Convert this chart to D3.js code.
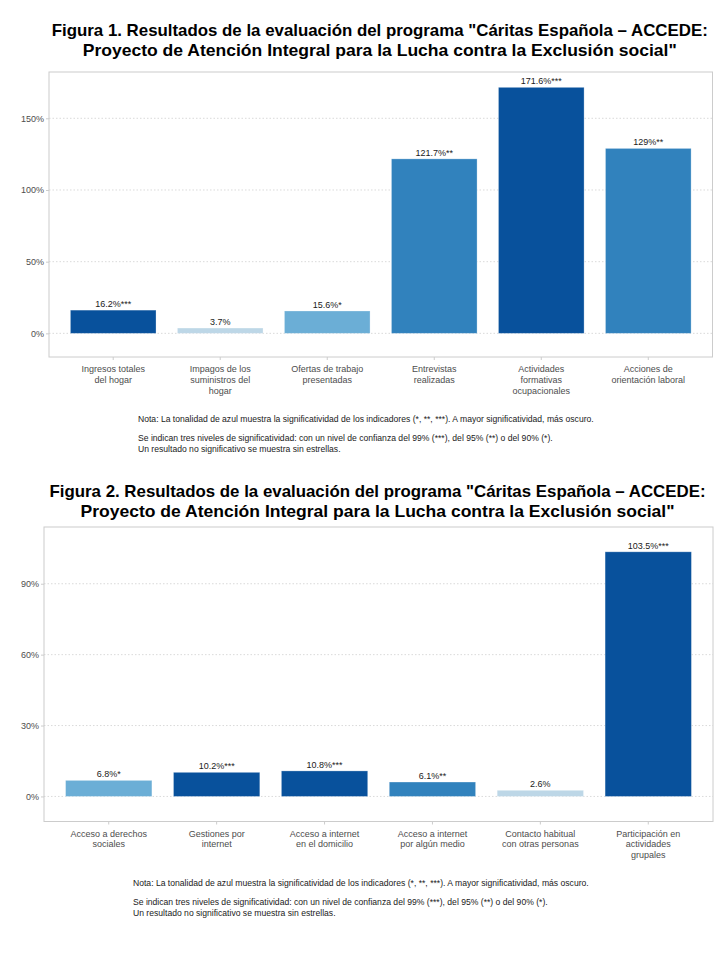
<!DOCTYPE html>
<html><head><meta charset="utf-8">
<script src="https://cdn.jsdelivr.net/npm/d3@7/dist/d3.min.js"></script>
<style>body{margin:0;background:#fff}svg{display:block}</style>
</head><body>
<svg id="chart" width="720" height="960"></svg>
<script>
// ---- Data ----
const titleLines = [
  "Resultados de la evaluación del programa \"Cáritas Española – ACCEDE:",
  "Proyecto de Atención Integral para la Lucha contra la Exclusión social\""
];
const fig1Categories = ["Ingresos totales\ndel hogar", "Impagos de los\nsuministros del\nhogar", "Ofertas de trabajo\npresentadas", "Entrevistas\nrealizadas", "Actividades\nformativas\nocupacionales", "Acciones de\norientación laboral"];
const fig1Values = [16.2, 3.7, 15.6, 121.7, 171.6, 129];
const fig1Stars = ["***", "", "*", "**", "***", "**"];
const fig1Ticks = [0, 50, 100, 150];

const fig2Categories = ["Acceso a derechos\nsociales", "Gestiones por\ninternet", "Acceso a internet\nen el domicilio", "Acceso a internet\npor algún medio", "Contacto habitual\ncon otras personas", "Participación en\nactividades\ngrupales"];
const fig2Values = [6.8, 10.2, 10.8, 6.1, 2.6, 103.5];
const fig2Stars = ["*", "***", "***", "**", "", "***"];
const fig2Ticks = [0, 30, 60, 90];

const noteLines = [
  "Nota: La tonalidad de azul muestra la significatividad de los indicadores (*, **, ***). A mayor significatividad, más oscuro.",
  "",
  "Se indican tres niveles de significatividad: con un nivel de confianza del 99% (***), del 95% (**) o del 90% (*).",
  "Un resultado no significativo se muestra sin estrellas."
];

const starColor = {"": "#bdd7e7", "*": "#6baed6", "**": "#3182bd", "***": "#08519c"};

// ---- Layout ----
const figs = [
  {num: 1, cats: fig1Categories, vals: fig1Values, stars: fig1Stars, ticks: fig1Ticks,
   px0: 49, px1: 712.5, py0: 72, py1: 357, dom: [-16.5, 182.3], titleY: 36, noteX: 138, noteY: 422},
  {num: 2, cats: fig2Categories, vals: fig2Values, stars: fig2Stars, ticks: fig2Ticks,
   px0: 44, px1: 713, py0: 527, py1: 821.5, dom: [-10.6, 114.0], titleY: 497, noteX: 133, noteY: 886}
];
const titleWidths = [656, 594];

const svg = d3.select("#chart");
svg.append("rect").attr("width", 720).attr("height", 960).attr("fill", "#fff");
const FONT = "'Liberation Sans', Arial, sans-serif";

figs.forEach(f => {
  const g = svg.append("g");
  const x = d3.scaleBand().domain(f.cats).range([f.px0, f.px1]).paddingInner(0.2).paddingOuter(0.2);
  const y = d3.scaleLinear().domain(f.dom).range([f.py1, f.py0]);
  const cx = (f.px0 + f.px1) / 2 - 1;

  // title
  const tl = ["Figura " + f.num + ". " + titleLines[0], titleLines[1]];
  tl.forEach((ln, k) => {
    g.append("text").attr("font-family", FONT).attr("font-weight", "bold")
      .attr("font-size", 17).attr("fill", "#000").attr("text-anchor", "middle")
      .attr("x", cx).attr("y", f.titleY + k * 19.5)
      .attr("textLength", titleWidths[k]).attr("lengthAdjust", "spacingAndGlyphs")
      .text(ln);
  });

  // grid
  g.append("g").selectAll("line").data(f.ticks).join("line")
    .attr("x1", f.px0).attr("x2", f.px1)
    .attr("y1", d => y(d)).attr("y2", d => y(d))
    .attr("stroke", "#d0d0d0").attr("stroke-width", 0.8).attr("stroke-dasharray", "1.5,2");

  // bars
  g.append("g").selectAll("rect").data(f.vals).join("rect")
    .attr("x", (d, i) => x(f.cats[i]))
    .attr("width", x.bandwidth())
    .attr("y", d => y(d))
    .attr("height", d => y(0) - y(d))
    .attr("fill", (d, i) => starColor[f.stars[i]])
    .attr("stroke", "#ffffff").attr("stroke-opacity", 0.35).attr("stroke-width", 0.8);

  // value labels
  g.append("g").selectAll("text").data(f.vals).join("text")
    .attr("x", (d, i) => x(f.cats[i]) + x.bandwidth() / 2)
    .attr("y", d => y(d) - 3)
    .attr("text-anchor", "middle").attr("font-family", FONT).attr("font-size", 9)
    .attr("fill", "#1a1a1a")
    .text((d, i) => d + "%" + f.stars[i]);

  // panel border
  g.append("rect").attr("x", f.px0).attr("y", f.py0)
    .attr("width", f.px1 - f.px0).attr("height", f.py1 - f.py0)
    .attr("fill", "none").attr("stroke", "#cccccc").attr("stroke-width", 1);

  // y axis
  const ya = g.append("g").attr("transform", `translate(${f.px0},0)`)
    .call(d3.axisLeft(y).tickValues(f.ticks).tickSize(3).tickPadding(2).tickFormat(d => d + "%"));
  ya.select(".domain").remove();
  ya.selectAll("line").attr("stroke", "#cccccc");
  ya.selectAll("text").attr("font-family", FONT).attr("font-size", 9).attr("fill", "#4d4d4d");

  // x axis
  const xa = g.append("g").attr("transform", `translate(0,${f.py1})`)
    .call(d3.axisBottom(x).tickSize(3).tickPadding(3).tickFormat(""));
  xa.select(".domain").remove();
  xa.selectAll("line").attr("stroke", "#cccccc");
  xa.selectAll(".tick").each(function(d) {
    const txt = d3.select(this).append("text").attr("text-anchor", "middle")
      .attr("font-family", FONT).attr("font-size", 9).attr("fill", "#4d4d4d");
    d.split("\n").forEach((ln, k) => {
      txt.append("tspan").attr("x", 0).attr("y", 15 + k * 10.8).text(ln);
    });
  });

  // note
  const nt = g.append("text").attr("font-family", FONT).attr("font-size", 8.6).attr("fill", "#1a1a1a");
  const offs = [0, 0, 19, 29.5];
  noteLines.forEach((ln, k) => {
    if (ln) nt.append("tspan").attr("x", f.noteX).attr("y", f.noteY + offs[k]).text(ln);
  });
});
</script>
</body></html>
